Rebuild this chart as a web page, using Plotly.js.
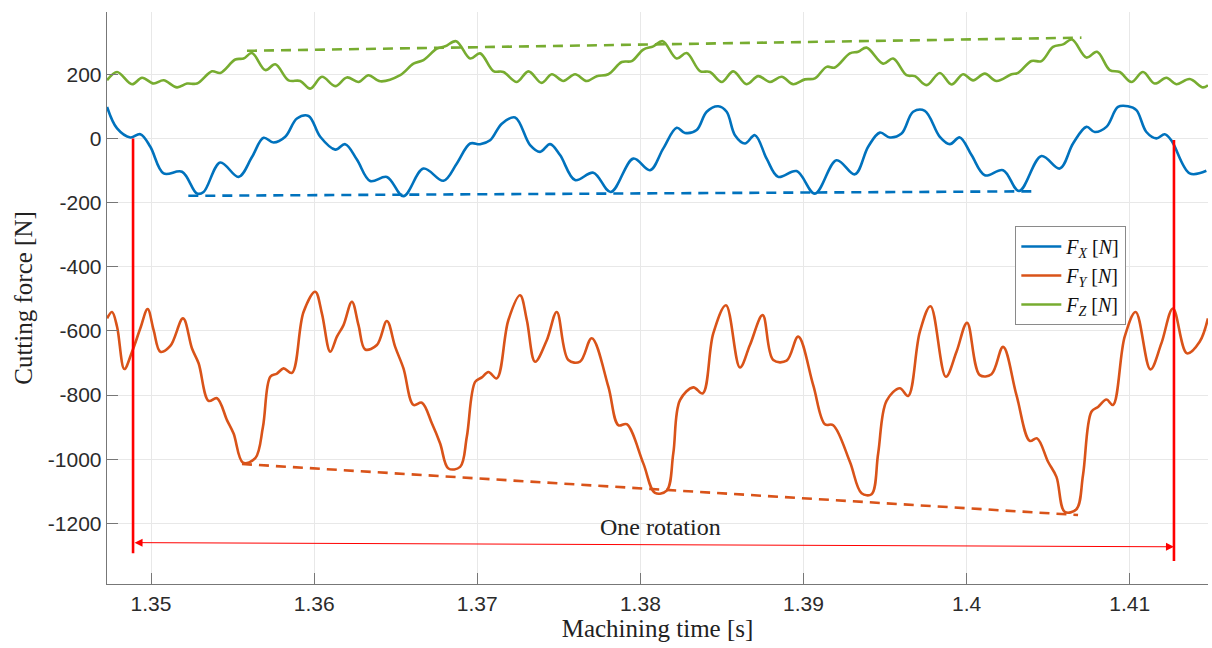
<!DOCTYPE html>
<html>
<head>
<meta charset="utf-8">
<script src="https://cdn.plot.ly/plotly-3.0.1.min.js"></script>
<style>html,body{margin:0;padding:0;background:#fff;}#chart{width:1212px;height:648px;}</style>
</head>
<body>
<div id="chart"></div>
<script>
// ---- Data ----
const tX = [1.347304,1.347917,1.348732,1.349344,1.349957,1.350772,1.351899,1.352818,1.353223,1.354246,1.355367,1.356188,1.356899,1.357511,1.358228,1.358945,1.359656,1.360373,1.361292,1.361904,1.362621,1.363436,1.364459,1.365476,1.366701,1.367927,1.368748,1.369563,1.370175,1.370788,1.371505,1.372320,1.373239,1.373851,1.374464,1.375076,1.375995,1.377117,1.378183,1.379568,1.380591,1.381406,1.382227,1.382735,1.383452,1.384065,1.384775,1.385290,1.385798,1.386411,1.387024,1.387741,1.388451,1.389579,1.390700,1.392030,1.393151,1.393966,1.394683,1.395296,1.396013,1.396723,1.397440,1.398359,1.398972,1.399585,1.400302,1.401117,1.402236,1.403217,1.404589,1.405711,1.406526,1.407347,1.407855,1.408572,1.409283,1.409895,1.410410,1.411023,1.411635,1.412144,1.412554,1.413676,1.414699];
const fX = [98,31,3,13,-26,-109,-104,-172,-167,-75,-120,-58,2,-13,5,62,70,5,-35,-18,-66,-133,-120,-180,-94,-132,-78,-16,-18,-6,46,65,-21,-42,-18,-52,-130,-107,-167,-63,-99,-31,33,17,26,83,100,83,10,-16,10,-63,-120,-102,-172,-68,-112,-26,18,3,15,83,86,5,-18,3,-52,-115,-99,-164,-55,-94,-16,36,20,36,98,100,88,20,0,13,-6,-109,-101];

const tY = [1.347304,1.347610,1.347917,1.348364,1.348836,1.349344,1.349792,1.350159,1.350570,1.351182,1.351961,1.352512,1.352916,1.353529,1.354044,1.354656,1.355061,1.355637,1.356390,1.356862,1.357309,1.357720,1.358124,1.358639,1.359349,1.360066,1.360477,1.360985,1.361396,1.361800,1.362315,1.362719,1.363130,1.363846,1.364459,1.364968,1.365476,1.366089,1.366604,1.367216,1.367725,1.368233,1.368950,1.369360,1.369869,1.370279,1.370684,1.371198,1.371909,1.372626,1.373037,1.373545,1.374262,1.374875,1.375585,1.376302,1.377019,1.378036,1.378649,1.379163,1.380180,1.380897,1.381614,1.382018,1.382429,1.383244,1.383820,1.384469,1.385247,1.386104,1.386717,1.387496,1.388145,1.388966,1.389677,1.390596,1.391313,1.391821,1.392844,1.393561,1.394174,1.394578,1.395092,1.395907,1.396416,1.397133,1.397789,1.398726,1.399382,1.400031,1.400809,1.401526,1.402237,1.403058,1.403873,1.404320,1.404994,1.405508,1.406017,1.406734,1.407138,1.407653,1.408057,1.408572,1.408976,1.409693,1.410367,1.411268,1.411941,1.412652,1.413510,1.414288,1.414797];
const fY = [-561,-541,-587,-719,-665,-592,-532,-598,-665,-647,-561,-655,-701,-818,-810,-878,-920,-1011,-997,-899,-743,-733,-717,-731,-541,-478,-546,-665,-618,-582,-509,-582,-658,-644,-569,-650,-717,-831,-824,-888,-951,-1029,-1024,-930,-759,-745,-728,-748,-566,-489,-566,-696,-629,-541,-691,-696,-623,-774,-894,-891,-1013,-1105,-1098,-982,-816,-776,-795,-608,-520,-714,-644,-551,-691,-693,-618,-769,-891,-894,-1008,-1106,-1109,-982,-818,-779,-803,-603,-523,-743,-665,-575,-738,-735,-650,-800,-943,-935,-1008,-1055,-1164,-1156,-1049,-852,-837,-814,-831,-618,-541,-720,-639,-530,-670,-634,-561];

const tZ = [1.347304,1.347917,1.348836,1.349449,1.350159,1.350772,1.351593,1.352206,1.352818,1.353737,1.354246,1.355165,1.355673,1.356188,1.357003,1.357616,1.358430,1.359147,1.359760,1.360477,1.361292,1.362008,1.362719,1.363332,1.364049,1.365274,1.366089,1.366701,1.367523,1.368031,1.368705,1.369563,1.370175,1.370990,1.371603,1.372424,1.373135,1.373955,1.374568,1.375279,1.375996,1.376712,1.377325,1.378036,1.378857,1.379470,1.380180,1.380793,1.381369,1.382227,1.382839,1.383654,1.384267,1.384984,1.385694,1.386515,1.387226,1.387943,1.388659,1.389370,1.390087,1.390700,1.391417,1.391925,1.392844,1.393353,1.393867,1.394884,1.395497,1.396318,1.396827,1.397544,1.398359,1.399076,1.399786,1.400399,1.401116,1.401833,1.402752,1.403156,1.403977,1.404590,1.405300,1.405913,1.406464,1.407347,1.407996,1.408774,1.409387,1.410104,1.410815,1.411532,1.412249,1.412861,1.413676,1.414491,1.414797];
const fZ = [181,207,169,189,171,181,159,171,171,209,204,246,249,266,213,231,181,179,155,192,163,190,176,197,178,197,233,244,280,287,303,249,265,210,207,176,209,173,200,179,200,179,194,200,238,241,277,287,303,249,266,210,207,176,209,169,194,176,192,169,184,187,223,221,265,270,283,233,249,197,194,166,204,168,200,181,202,179,200,204,241,241,285,293,308,252,270,213,207,176,207,171,189,169,185,159,166];

// trend (dashed) lines: start / end
const trendXt = [1.352285, 1.403977], trendXv = [-179, -165];
const trendYt = [1.355575, 1.406834], trendYv = [-1015, -1174];
const trendZt = [1.355882, 1.407041], trendZv = [273, 314];

// one-rotation markers
const rotStart = 1.348897, rotEnd = 1.412713;
const rotLeftV = [0, -1293], rotRightV = [-5, -1317];
const arrowV = [-1260, -1273];
const rotLabel = 'One rotation', rotLabelT = 1.38122, rotLabelV = -1212;

const xTicks = [1.35, 1.36, 1.37, 1.38, 1.39, 1.40, 1.41];
const xTickText = ['1.35','1.36','1.37','1.38','1.39','1.4','1.41'];
const yTicks = [-1200, -1000, -800, -600, -400, -200, 0, 200];
const yTickText = ['-1200','-1000','-800','-600','-400','-200','0','200'];

// ---- Styles ----
const cBlue = '#0072BD', cOrange = '#D95319', cGreen = '#77AC30', cRed = '#FF0000';
const serif = 'Liberation Serif, DejaVu Serif, serif';
const sans = 'Liberation Sans, Arial, sans-serif';
const lw = 2.6;

const traces = [
  {x: tX, y: fX, mode: 'lines', name: '<i>F</i><sub><i>X</i></sub> [<i>N</i>]', line: {color: cBlue, width: lw, shape: 'spline', smoothing: 1}},
  {x: tY, y: fY, mode: 'lines', name: '<i>F</i><sub><i>Y</i></sub> [<i>N</i>]', line: {color: cOrange, width: lw, shape: 'spline', smoothing: 1}},
  {x: tZ, y: fZ, mode: 'lines', name: '<i>F</i><sub><i>Z</i></sub> [<i>N</i>]', line: {color: cGreen, width: lw, shape: 'spline', smoothing: 1}},
  {x: trendXt, y: trendXv, mode: 'lines', showlegend: false, line: {color: cBlue, width: lw, dash: '10px,7px'}},
  {x: trendYt, y: trendYv, mode: 'lines', showlegend: false, line: {color: cOrange, width: lw, dash: '10px,7px'}},
  {x: trendZt, y: trendZv, mode: 'lines', showlegend: false, line: {color: cGreen, width: lw, dash: '10px,7px'}},
  {x: [rotStart, rotStart], y: rotLeftV, mode: 'lines', showlegend: false, line: {color: cRed, width: 2.6}},
  {x: [rotEnd, rotEnd], y: rotRightV, mode: 'lines', showlegend: false, line: {color: cRed, width: 2.6}}
];

const layout = {
  width: 1212, height: 648,
  margin: {l: 107, r: 4, t: 12, b: 64},
  paper_bgcolor: '#fff', plot_bgcolor: '#fff',
  showlegend: true,
  legend: {
    x: 0.825, y: 0.626, xanchor: 'left', yanchor: 'top',
    bgcolor: '#fff', bordercolor: '#8a8a8a', borderwidth: 1,
    font: {family: serif, size: 20, color: '#111'},
    itemwidth: 40, tracegroupgap: 0
  },
  xaxis: {
    range: [1.3473, 1.4148],
    tickvals: xTicks, ticktext: xTickText,
    ticks: 'inside', ticklen: 11, tickcolor: '#777', tickwidth: 1,
    showline: true, linecolor: '#777', linewidth: 1.3,
    showgrid: true, gridcolor: '#e8e8e8', gridwidth: 1,
    zeroline: false, mirror: false,
    tickfont: {family: sans, size: 21, color: '#2b2b2b'},
    title: {text: 'Machining time [s]', font: {family: serif, size: 25, color: '#222'}, standoff: 6}
  },
  yaxis: {
    range: [-1389, 394],
    tickvals: yTicks, ticktext: yTickText,
    ticks: 'inside', ticklen: 11, tickcolor: '#777', tickwidth: 1,
    showline: true, linecolor: '#777', linewidth: 1.3,
    showgrid: true, gridcolor: '#e8e8e8', gridwidth: 1,
    zeroline: false, mirror: false,
    tickfont: {family: sans, size: 21, color: '#2b2b2b'},
    title: {text: 'Cutting force [N]', font: {family: serif, size: 25, color: '#222'}, standoff: 8}
  },
  annotations: [
    {x: rotEnd, y: arrowV[1], ax: rotStart, ay: arrowV[0], xref: 'x', yref: 'y', axref: 'x', ayref: 'y',
     showarrow: true, arrowhead: 2, arrowside: 'end+start', arrowsize: 1.6, arrowwidth: 1, arrowcolor: cRed, text: ''},
    {x: rotLabelT, y: rotLabelV, xref: 'x', yref: 'y', text: rotLabel, showarrow: false,
     font: {family: serif, size: 24, color: '#222'}}
  ]
};

Plotly.newPlot('chart', traces, layout, {displayModeBar: false, staticPlot: true});
</script>
</body>
</html>
